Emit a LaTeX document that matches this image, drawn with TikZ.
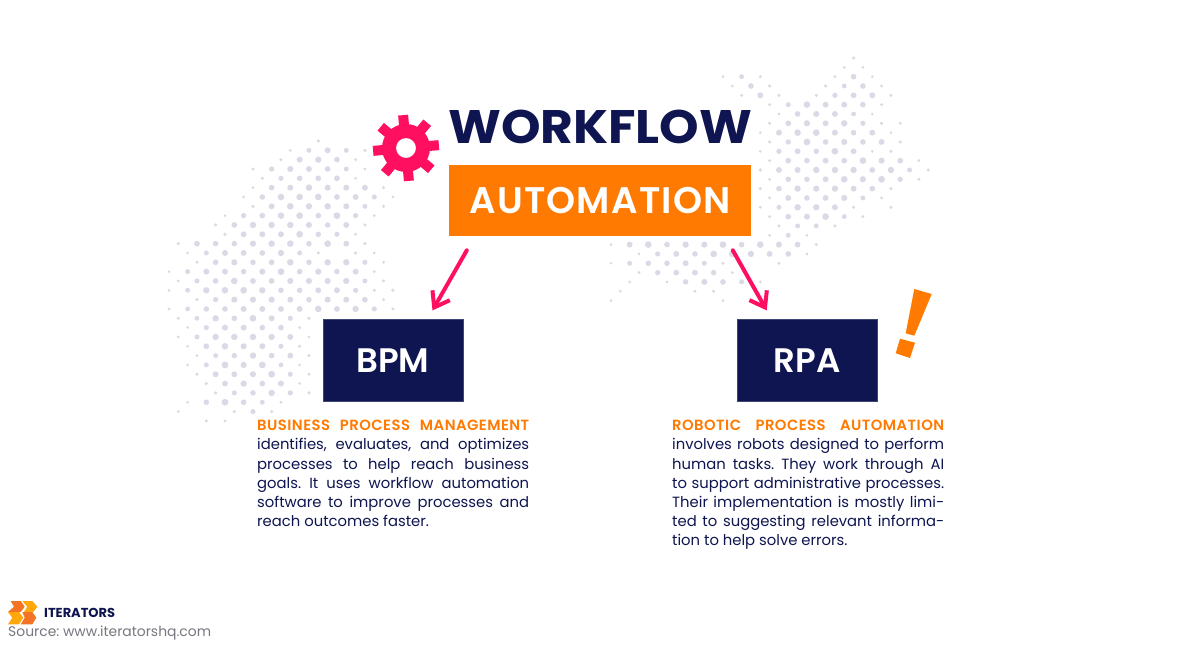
\documentclass[tikz,border=0pt]{standalone}
\usepackage{fontspec}
\setmainfont{Poppins}
\newfontfamily\semifont{Poppins SemiBold}
\usepackage{xcolor}
\usetikzlibrary{positioning,arrows.meta}
\definecolor{navy}{HTML}{0E1550}
\definecolor{flame}{HTML}{FF7A00}
\definecolor{rose}{HTML}{FF0F5F}
\definecolor{speck}{HTML}{D9DAE6}
\definecolor{smoke}{HTML}{77777F}
\definecolor{logoa}{HTML}{F47425}
\definecolor{logob}{HTML}{FFA70B}
\tikzset{
	navybox/.style={draw=navy!80!white, line width=.6pt, fill=navy, text=white, minimum width=140pt, minimum height=82pt, font=\fontsize{34}{34}\semifont},
	pinkarrow/.style={-{Straight Barb[length=14pt,width=20pt,line width=4pt]}, line width=4pt, line cap=round, rose},
	bodytext/.style={inner sep=0pt, text width=272pt, align=justify, anchor=north west, text=navy, font=\fontsize{14.8}{19.2}\selectfont\frenchspacing}
}
\newcommand{\headfont}{\semifont\addfontfeature{LetterSpace=3}}
% rows of the dot field: row, first column, last column, only every other lattice point
\newcommand{\dotrows}[3]{%
	\foreach \r/\a/\b in {#3} {
		\foreach \c in {\a,...,\b} {
			\pgfmathtruncatemacro{\parity}{mod(\c+\r,2)}
			\ifnum\parity=0
				\pgfmathsetmacro{\nearend}{min(\c-\a,\b-\c)}
				\pgfmathsetmacro{\rad}{min(3.4,1.8+0.6*\nearend)*(0.8+0.2*rnd)}
				\fill[speck] ({#1+\c*9.33},{#2+\r*9.33}) circle (\rad pt);
			\fi
		}
	}
}
\begin{document}
\begin{tikzpicture}[x=1pt,y=-1pt]
	\useasboundingbox (0,0) rectangle (1200,646);
	\fill[white] (0,0) rectangle (1200,646);
	\pgfmathsetseed{7}
	% left field
	\dotrows{169}{141}{
		0/16/16, 1/13/21, 2/12/20, 3/9/21, 4/10/20, 5/9/23, 6/8/24, 7/9/23, 8/6/22, 9/5/21,
		10/6/20, 11/1/21, 12/2/16, 12/20/22, 13/3/23, 14/0/22, 15/1/23, 16/0/22, 16/24/24, 17/3/23,
		18/0/24, 19/1/15, 20/2/14, 21/1/15, 22/2/14, 23/3/15, 24/2/14, 25/3/15, 26/4/14, 27/5/15,
		28/2/12, 29/1/1, 29/7/11, 30/4/6
	}
	% right field
	\dotrows{611}{58}{
		0/26/26, 1/25/27, 2/12/16, 2/24/28, 3/13/17, 3/23/29, 4/14/18, 4/22/30, 5/17/29, 6/18/28,
		7/17/29, 7/31/31, 8/16/30, 9/17/31, 10/16/28, 10/30/30, 11/17/33, 12/16/34, 13/17/33, 14/16/30,
		15/17/29, 16/16/26, 16/30/30, 17/17/27, 18/18/24, 19/17/21, 20/0/22, 21/3/21, 22/0/12, 22/18/18,
		23/3/13, 24/2/2, 24/6/16, 25/1/1, 25/9/11, 26/0/0, 26/12/12
	}
	% gear
	\fill[rose, even odd rule] (406,148) circle (24pt) (406,148) circle (10pt);
	\foreach \t in {0,45,...,315} {
		\fill[rose, rotate around={\t+5:(406,148)}] (401,128) rectangle (411,115);
	}
	\node[inner sep=0pt, anchor=west, text=navy, font=\fontsize{47}{47}\selectfont\bfseries\addfontfeature{FakeStretch=1.07}] (work) at (448,127) {WORKFLOW};
	\node[draw=none, fill=flame, text=white, minimum width=302pt, minimum height=71pt, inner sep=0pt, font=\fontsize{37}{37}\semifont\addfontfeature{LetterSpace=3.3}] (auto) at (600,200.6) {AUTOMATION};
	\node[navybox] (bpm) at (392.8,360.7) {BPM};
	\node[navybox] (rpa) at (807,360.7) {RPA};
	\draw[pinkarrow] ([xshift=18pt,yshift=-14pt] auto.south west) -- ([xshift=110pt,yshift=9pt] bpm.north west);
	\draw[pinkarrow] ([xshift=284pt,yshift=-14pt] auto.south west) -- ([xshift=30pt,yshift=9pt] rpa.north west);
	% exclamation mark
	\fill[flame] (914.3,289) -- (931.7,294) -- (914.3,335.7) -- (905.7,333.3) -- cycle;
	\fill[flame] (900,338.7) -- (915,342.7) -- (910,358) -- (895.7,353.3) -- cycle;
	\node[bodytext] (bpmtext) at (257,420) {{\color{flame}\headfont BUSINESS PROCESS MANAGEMENT}\linebreak identifies, evaluates, and optimizes\linebreak processes to help reach business\linebreak goals. It uses workflow automation\linebreak software to improve processes and\linebreak reach outcomes faster.};
	\node[bodytext] (rpatext) at (672,420) {{\color{flame}\headfont ROBOTIC PROCESS AUTOMATION}\linebreak involves robots designed to perform\linebreak human tasks. They work through AI\linebreak to support administrative processes.\linebreak Their implementation is mostly limi-\linebreak ted to suggesting relevant informa-\linebreak tion to help solve errors.};
	% logo
	\fill[logoa] (10.7,601) -- (20.7,601) -- (24.7,606.7) -- (20.7,612) -- (8,612) -- (14,606.7) -- cycle;
	\fill[logob] (22.3,601) -- (32.3,601) -- (37.3,606.7) -- (33.3,612) -- (24,612) -- (27.3,606.7) -- cycle;
	\fill[logob] (8,612) -- (19,612) -- (23.3,617.7) -- (19,624.3) -- (8,624.3) -- (12.3,617.7) -- cycle;
	\fill[logoa] (22.3,612) -- (32.3,612) -- (36.3,617.7) -- (32.3,624.3) -- (20.7,624.3) -- (24.7,617.7) -- cycle;
	\node[inner sep=0pt, anchor=west, text=navy, font=\fontsize{13}{13}\selectfont\bfseries] (logo) at (44,613) {ITERATORS};
	\node[inner sep=0pt, anchor=west, text=smoke, font=\fontsize{13.9}{14}\selectfont\frenchspacing] (source) at (8,633) {Source: www.iteratorshq.com};
\end{tikzpicture}
\end{document}
